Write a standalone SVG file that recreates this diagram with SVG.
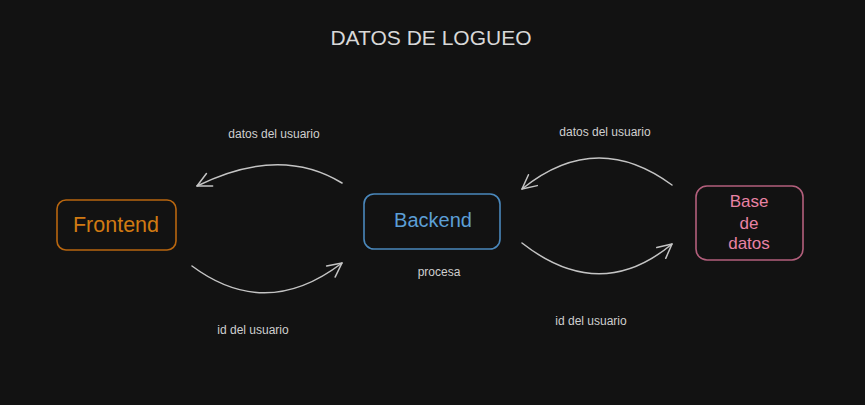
<svg xmlns="http://www.w3.org/2000/svg" width="865" height="405" viewBox="0 0 865 405">
<defs>
<style>
text{font-family:"Liberation Sans",Arial,sans-serif;text-anchor:middle}
.lbl{font-size:12px;fill:#cfcfcf}
.node{fill:none;stroke-width:1.6}
.conn{fill:none;stroke:#c4c4c4;stroke-width:1.5;stroke-linecap:round}
</style>
<marker id="ah" viewBox="0 0 20 20" refX="16" refY="10" markerWidth="20" markerHeight="20" markerUnits="userSpaceOnUse" orient="auto">
<path d="M2,3 L16,10 L2,17" fill="none" stroke="#c4c4c4" stroke-width="1.5" stroke-linecap="round" stroke-linejoin="round"/>
</marker>
</defs>
<rect width="865" height="405" fill="#121212"/>
<text x="431" y="45" style="font-size:21px;fill:#d8d8d8">DATOS DE LOGUEO</text>
<g id="frontend">
<rect class="node" x="57" y="200" width="119" height="50" rx="9" stroke="#b8660f"/>
<text x="116" y="232" style="font-size:21.5px;fill:#d07a12">Frontend</text>
</g>
<g id="backend">
<rect class="node" x="364" y="194" width="136" height="55" rx="10" stroke="#4a88bc"/>
<text x="433" y="227" style="font-size:20px;fill:#5c9fd6">Backend</text>
</g>
<g id="basedatos">
<rect class="node" x="696" y="186" width="107" height="74" rx="11" stroke="#b35f7c"/>
<text x="749" y="207" style="font-size:17px;fill:#e882a4">Base</text>
<text x="749" y="229" style="font-size:17px;fill:#e882a4">de</text>
<text x="749" y="249" style="font-size:17px;fill:#e882a4">datos</text>
</g>
<g id="connectors">
<path class="conn" d="M342,183 Q280,145 197,186" marker-end="url(#ah)"/>
<path class="conn" d="M192,266 Q266,321 342,263" marker-end="url(#ah)"/>
<path class="conn" d="M672,185 Q596,129 522,189" marker-end="url(#ah)"/>
<path class="conn" d="M522,243 Q600,304 672,244" marker-end="url(#ah)"/>
<text class="lbl" x="274" y="138">datos del usuario</text>
<text class="lbl" x="253" y="334">id del usuario</text>
<text class="lbl" x="605" y="136">datos del usuario</text>
<text class="lbl" x="591" y="325">id del usuario</text>
<text class="lbl" x="439" y="276">procesa</text>
</g>
</svg>
